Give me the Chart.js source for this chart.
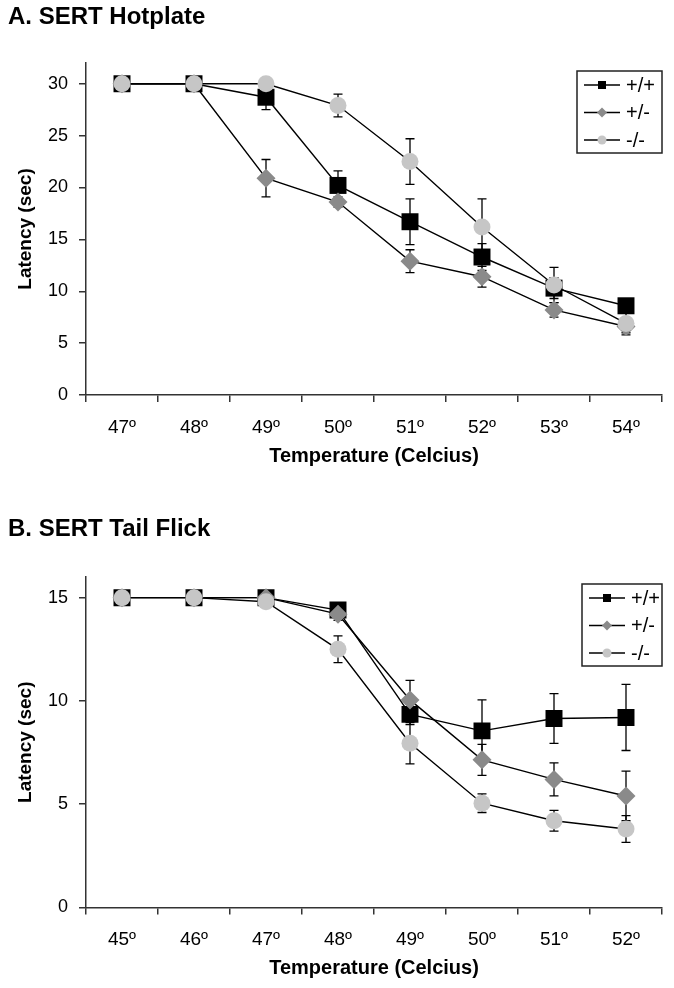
<!DOCTYPE html>
<html>
<head>
<meta charset="utf-8">
<script src="https://cdn.jsdelivr.net/npm/chart.js@4.4.0/dist/chart.umd.min.js"></script>
<style>
  html, body { margin: 0; padding: 0; background: #fff; }
  body { width: 674px; height: 988px; position: relative; overflow: hidden; font-family: 'Liberation Sans', Arial, sans-serif; }
  .chart-box { position: absolute; left: 0; width: 674px; height: 494px; }
  .panel-title { position: absolute; left: 8px; font-weight: bold; font-size: 24px; line-height: 24px; color: #000; white-space: nowrap; }
</style>
</head>
<body>
<div class="chart-box" style="top:0"><canvas id="hotplateChart"></canvas></div>
<div class="chart-box" style="top:494px"><canvas id="tailFlickChart"></canvas></div>
<div class="panel-title" style="top:4px">A. SERT Hotplate</div>
<div class="panel-title" style="top:516px">B. SERT Tail Flick</div>

<script>
const genotypes = ['+/+', '+/-', '-/-'];

// A. Hotplate
const hotplateTemps = ['47º', '48º', '49º', '50º', '51º', '52º', '53º', '54º'];
const hotplateWT = [30, 30, 28.7, 20.2, 16.7, 13.3, 10.3, 8.6];
const hotplateWTErr = [0, 0, 1.2, 1.4, 2.2, 1.3, 1.0, 0.5];
const hotplateHet = [30, 30, 20.9, 18.6, 12.9, 11.4, 8.2, 6.6];
const hotplateHetErr = [0, 0, 1.8, 0.5, 1.1, 1.0, 0.7, 0.6];
const hotplateKO = [30, 30, 30, 27.9, 22.5, 16.2, 10.6, 6.9];
const hotplateKOErr = [0, 0, 0, 1.1, 2.2, 2.7, 1.7, 1.1];
const hotplateYTicks = [0, 5, 10, 15, 20, 25, 30];

// B. Tail flick
const tailFlickTemps = ['45º', '46º', '47º', '48º', '49º', '50º', '51º', '52º'];
const tailFlickWT = [15, 15, 15, 14.4, 9.35, 8.55, 9.15, 9.2];
const tailFlickWTErr = [0, 0, 0, 0.3, 0.5, 1.5, 1.2, 1.6];
const tailFlickHet = [15, 15, 15, 14.2, 10.05, 7.15, 6.2, 5.4];
const tailFlickHetErr = [0, 0, 0, 0.3, 0.95, 0.75, 0.8, 1.2];
const tailFlickKO = [15, 15, 14.8, 12.5, 7.95, 5.05, 4.2, 3.8];
const tailFlickKOErr = [0, 0, 0.2, 0.65, 1.0, 0.45, 0.5, 0.65];
const tailFlickYTicks = [0, 5, 10, 15];

const seriesStyle = [
  { color: '#000000', pointStyle: 'rect', radius: 12, order: 2 },
  { color: '#8a8a8a', pointStyle: 'rectRot', radius: 9.5, order: 1 },
  { color: '#c6c6c6', pointStyle: 'circle', radius: 8.5, order: 0 }
];

const errorBarPlugin = {
  id: 'errorBars',
  beforeDatasetsDraw(chart) {
    const ctx = chart.ctx;
    const yScale = chart.scales.y;
    ctx.save();
    ctx.strokeStyle = '#000';
    ctx.lineWidth = 1.3;
    chart.data.datasets.forEach((ds, i) => {
      const meta = chart.getDatasetMeta(i);
      meta.data.forEach((pt, j) => {
        const err = ds.errors[j];
        if (!err) return;
        const top = yScale.getPixelForValue(ds.data[j] + err);
        const bot = yScale.getPixelForValue(ds.data[j] - err);
        ctx.beginPath();
        ctx.moveTo(pt.x, top); ctx.lineTo(pt.x, bot);
        ctx.moveTo(pt.x - 4.5, top); ctx.lineTo(pt.x + 4.5, top);
        ctx.moveTo(pt.x - 4.5, bot); ctx.lineTo(pt.x + 4.5, bot);
        ctx.stroke();
      });
    });
    ctx.restore();
  }
};

// boxed legend inside the plot, line-marker-line like the original
const boxLegendPlugin = {
  id: 'boxLegend',
  afterDraw(chart, args, opts) {
    const ctx = chart.ctx;
    const area = chart.chartArea;
    const x0 = area.right + opts.right - opts.width;
    const y0 = area.top + opts.top;
    ctx.save();
    ctx.fillStyle = '#fff';
    ctx.fillRect(x0, y0, opts.width, opts.height);
    ctx.strokeStyle = '#222';
    ctx.lineWidth = 1.5;
    ctx.strokeRect(x0, y0, opts.width, opts.height);
    chart.data.datasets.forEach((ds, i) => {
      const ry = y0 + 14 + i * 27.5;
      ctx.strokeStyle = '#000';
      ctx.lineWidth = 1.3;
      ctx.beginPath();
      ctx.moveTo(x0 + 7, ry); ctx.lineTo(x0 + 43, ry);
      ctx.stroke();
      const mx = x0 + 25;
      ctx.fillStyle = ds.pointBackgroundColor;
      ctx.beginPath();
      if (ds.pointStyle === 'rect') {
        ctx.rect(mx - 4, ry - 4, 8, 8);
      } else if (ds.pointStyle === 'rectRot') {
        ctx.moveTo(mx, ry - 5); ctx.lineTo(mx + 5, ry);
        ctx.lineTo(mx, ry + 5); ctx.lineTo(mx - 5, ry);
        ctx.closePath();
      } else {
        ctx.arc(mx, ry, 4.5, 0, Math.PI * 2);
      }
      ctx.fill();
      ctx.fillStyle = '#000';
      ctx.font = "20px 'Liberation Sans', Arial, sans-serif";
      ctx.textBaseline = 'middle';
      ctx.textAlign = 'left';
      ctx.fillText(ds.label, x0 + 49, ry + 1);
    });
    ctx.restore();
  }
};

Chart.defaults.font.family = "'Liberation Sans', Arial, sans-serif";
Chart.defaults.color = '#000';

function buildChart(canvasId, labels, values, errors, yMax, yTicks, padding, legendBox) {
  const datasets = values.map((data, i) => ({
    label: genotypes[i],
    data: data,
    errors: errors[i],
    order: seriesStyle[i].order,
    borderColor: '#000',
    borderWidth: 1.4,
    tension: 0,
    fill: false,
    pointStyle: seriesStyle[i].pointStyle,
    pointRadius: seriesStyle[i].radius,
    pointBackgroundColor: seriesStyle[i].color,
    pointBorderColor: seriesStyle[i].color,
    pointBorderWidth: 0,
    pointHoverRadius: seriesStyle[i].radius
  }));

  return new Chart(document.getElementById(canvasId), {
    type: 'line',
    data: { labels, datasets },
    plugins: [errorBarPlugin, boxLegendPlugin],
    options: {
      responsive: true,
      maintainAspectRatio: false,
      animation: false,
      layout: { padding },
      plugins: {
        legend: { display: false },
        tooltip: { enabled: false },
        title: { display: false },
        boxLegend: legendBox
      },
      scales: {
        x: {
          offset: true,
          grid: { offset: true, drawOnChartArea: false, drawTicks: true, tickLength: 7, color: '#333', lineWidth: 1.5 },
          border: { color: '#333', width: 1.5 },
          ticks: { font: { size: 19 }, padding: 14, maxRotation: 0, autoSkip: false },
          title: { display: true, text: 'Temperature (Celcius)', font: { size: 20, weight: 'bold' }, padding: 0 },
          afterFit: s => { s.height = 73; }
        },
        y: {
          min: 0,
          max: yMax,
          grid: { drawOnChartArea: false, drawTicks: true, tickLength: 7, color: '#333', lineWidth: 1.5 },
          border: { color: '#333', width: 1.5 },
          ticks: { font: { size: 18 }, padding: 11 },
          afterBuildTicks: axis => { axis.ticks = yTicks.map(v => ({ value: v })); },
          title: { display: true, text: 'Latency (sec)', font: { size: 19, weight: 'bold' }, padding: { top: 14, bottom: 0 } },
          afterFit: s => { s.width = 86; }
        }
      }
    }
  });
}

document.addEventListener('DOMContentLoaded', function () {
  buildChart('hotplateChart', hotplateTemps,
    [hotplateWT, hotplateHet, hotplateKO],
    [hotplateWTErr, hotplateHetErr, hotplateKOErr],
    32, hotplateYTicks,
    { top: 63, right: 12, bottom: 26, left: 0 },
    { right: 0, top: 8, width: 85, height: 82 });

  buildChart('tailFlickChart', tailFlickTemps,
    [tailFlickWT, tailFlickHet, tailFlickKO],
    [tailFlickWTErr, tailFlickHetErr, tailFlickKOErr],
    16, tailFlickYTicks,
    { top: 83, right: 10, bottom: 7.5, left: 0 },
    { right: 0, top: 7, width: 80, height: 82 });
});
</script>
</body>
</html>
